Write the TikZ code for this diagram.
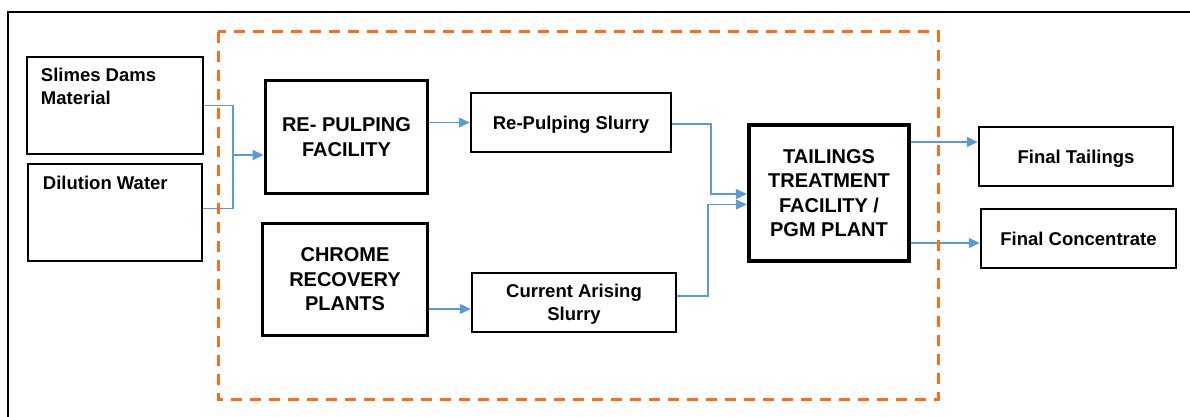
\documentclass[tikz,border=0pt]{standalone}
\usepackage{fontspec}
\setmainfont{Liberation Sans}
\usetikzlibrary{arrows.meta, positioning}
\definecolor{flowblue}{RGB}{91,155,213}
\definecolor{zoneorange}{RGB}{252,108,28}

\begin{document}
\begin{tikzpicture}[x=1pt, y=-1pt, >={Triangle[length=11pt, width=10pt]},
    smallbox/.style={draw, line width=2.5pt, align=center, inner sep=0pt, text depth=0pt,
        font=\fontsize{18.5}{23}\selectfont\bfseries},
    bigbox/.style={draw, line width=3.8pt, align=center, inner sep=0pt,
        font=\fontsize{20}{24.5}\selectfont\bfseries},
    boxtext/.style={align=left, inner sep=0pt, anchor=north west,
        font=\fontsize{18.5}{23}\selectfont\bfseries},
    flow/.style={draw=flowblue, line width=1.3pt, fill=none}]
    \useasboundingbox (0,0) rectangle (1190,417);

    % frame
    \draw[line width=2pt] (8,417) -- (8,12) -- (1190,12);

    % feed
    \node[smallbox, minimum width=176pt, minimum height=97pt] (slimes) at (115,105.5) {};
    \node[boxtext] (slimestext) at ([xshift=15pt, yshift=-12pt]slimes.north west) {Slimes Dams\\Material};
    \node[smallbox, minimum width=174pt, minimum height=97pt] (dilution) at (115,212.5) {};
    \node[boxtext] (dilutiontext) at ([xshift=16pt, yshift=-13pt]dilution.north west) {Dilution Water};

    % plants
    \node[bigbox, minimum width=162pt, minimum height=113pt] (repulp) at (346.5,137) {RE- PULPING\\FACILITY};
    \node[bigbox, minimum width=165pt, minimum height=112pt] (chrome) at (345,279.5) {CHROME\\RECOVERY\\PLANTS};
    \node[smallbox, minimum width=200pt, minimum height=59pt] (rpslurry) at (571,122.5) {Re-Pulping Slurry};
    \node[smallbox, minimum width=204pt, minimum height=59pt] (caslurry) at (574,302.5) {Current Arising\\Slurry};
    \node[bigbox, minimum width=160.5pt, minimum height=136.5pt] (tailings) at (829,193) {TAILINGS\\TREATMENT\\FACILITY /\\PGM PLANT};

    % products
    \node[smallbox, minimum width=194pt, minimum height=59pt] (ftail) at (1076,156.5) {Final Tailings};
    \node[smallbox, minimum width=195pt, minimum height=59pt] (fconc) at (1078.5,238.5) {Final Concentrate};

    % connectors
    \coordinate (merge) at (233,155);
    \draw[flow] (slimes.east) -| (merge);
    \draw[flow] ([yshift=4pt]dilution.east) -| (merge);
    \draw[flow, ->] (merge) -- (merge -| repulp.west);
    \draw[flow, ->] (repulp.east |- rpslurry.west) -- (rpslurry.west);
    \coordinate (cain) at ([yshift=-6.5pt]caslurry.west);
    \draw[flow, ->] (chrome.east |- cain) -- (cain);
    \coordinate (tin) at ([yshift=-11.5pt]tailings.west);
    \draw[flow, ->] ([yshift=-1.5pt]rpslurry.east) -| ([xshift=-36pt, yshift=-1pt]tailings.west) -- ([yshift=-1pt]tailings.west);
    \draw[flow, ->] ([yshift=6.5pt]caslurry.east) -| ([xshift=-39pt]tin) -- (tin);
    \coordinate (ftin) at ([yshift=14.5pt]ftail.west);
    \coordinate (fcin) at ([yshift=-4.5pt]fconc.west);
    \draw[flow, ->] (tailings.east |- ftin) -- (ftin);
    \draw[flow, ->] (tailings.east |- fcin) -- (fcin);

    % plant boundary
    \draw[zoneorange, line width=3pt, dash pattern=on 11pt off 8pt] (218,32) rectangle (938,399);
\end{tikzpicture}
\end{document}
